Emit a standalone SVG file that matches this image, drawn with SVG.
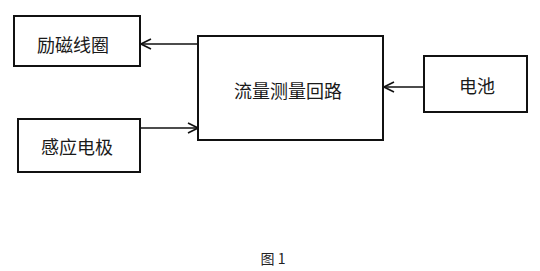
<svg xmlns="http://www.w3.org/2000/svg" width="540" height="271" viewBox="0 0 540 271">
<style>
.box{fill:#fff;stroke:#111;stroke-width:2}
.lbl{font-family:"Noto Sans CJK SC","Noto Sans",sans-serif;font-size:18px;fill:#1a1a1a;text-anchor:middle;dominant-baseline:central}
.cap{font-family:"Noto Sans CJK SC","Liberation Serif",serif;font-size:14px;fill:#222;text-anchor:middle;dominant-baseline:central}
.ln{stroke:#111;stroke-width:1.6;fill:none}
</style>
<defs>
<marker id="arr" viewBox="0 0 12 12" refX="11" refY="6" markerWidth="12" markerHeight="12" markerUnits="userSpaceOnUse" orient="auto">
<path d="M1,1 L11,6 L1,11" fill="none" stroke="#111" stroke-width="1.6"/>
</marker>
</defs>
<rect width="540" height="271" fill="#fff"/>
<g id="connectors">
<line class="ln" x1="198" y1="44" x2="141" y2="44" marker-end="url(#arr)"/>
<line class="ln" x1="141" y1="128" x2="198" y2="128" marker-end="url(#arr)"/>
<line class="ln" x1="424" y1="87" x2="384" y2="87" marker-end="url(#arr)"/>
</g>
<g id="excitation-coil">
<rect class="box" x="14" y="16" width="126" height="50"/>
<text class="lbl" x="73" y="44">励磁线圈</text>
</g>
<g id="electrode">
<rect class="box" x="18" y="119" width="122" height="53"/>
<text class="lbl" x="77" y="146">感应电极</text>
</g>
<g id="flow-circuit">
<rect class="box" x="198" y="36" width="185" height="104"/>
<text class="lbl" x="288" y="90">流量测量回路</text>
</g>
<g id="battery">
<rect class="box" x="424" y="56" width="103" height="56"/>
<text class="lbl" x="477" y="85">电池</text>
</g>
<text class="cap" x="273" y="258">图 1</text>
</svg>
